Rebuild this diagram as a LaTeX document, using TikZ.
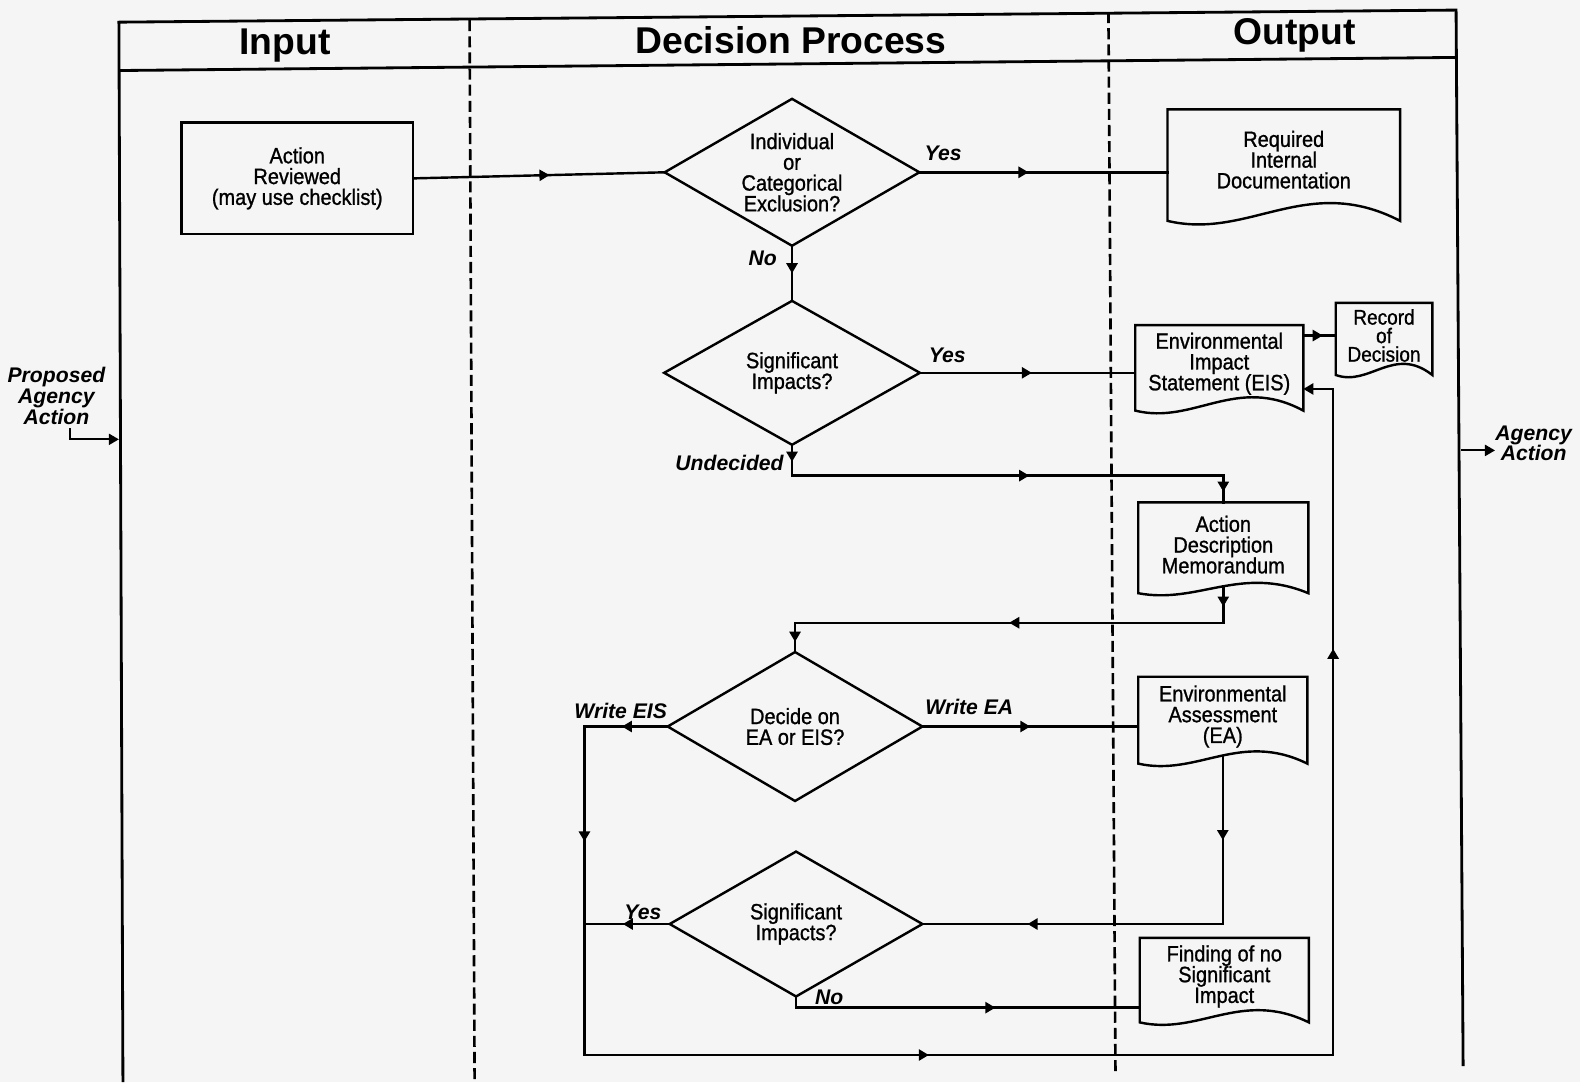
\documentclass[tikz,border=0pt]{standalone}
\usepackage{fontspec}
\setmainfont{Liberation Sans}
\newfontfamily\boxfont[FakeStretch=0.9,FakeBold=1]{Liberation Sans}
\usetikzlibrary{arrows.meta,decorations.markings,calc}
\definecolor{bgc}{RGB}{245,245,245}
\tikzset{
  line/.style={draw=black, line width=1.2pt, line cap=rect},
  frame/.style={draw=black, line width=1.4pt},
  lane/.style={draw=black, line width=1.3pt, dash pattern=on 5.5pt off 2.5pt},
  midarrow/.style={postaction={decorate}, decoration={markings, mark=at position #1 with {\arrow{Triangle[length=5pt,width=5.5pt]}}}},
  tip/.style={-{Triangle[length=5pt,width=5.5pt]}},
  txt/.style={inner sep=0pt, align=center, font=\boxfont\fontsize{11}{10.3}\selectfont},
  procbox/.style={txt, rectangle, draw=black, line width=1.2pt},
  docbox/.style={txt, rectangle},
  decision/.style={txt, rectangle},
  lbl/.style={font=\bfseries\itshape\fontsize{10.5}{10.3}\selectfont, inner sep=0pt, align=center},
  head/.style={font=\bfseries\fontsize{18.5}{20}\selectfont, inner sep=0pt},
}
\newcommand\docdraw[2]{%
  \draw[line, line cap=butt, line join=miter] (#1.north west) -- ($(#1.south west)+(0,{0.225*#2})$)
   .. controls ($(#1.south west)!0.35!(#1.south east)+(0,{0.625*#2})$)
   and ($(#1.south west)!0.6!(#1.south east)+(0,{-0.775*#2})$)
   .. ($(#1.south east)+(0,{0.225*#2})$) -- (#1.north east) -- cycle;}
\newcommand\diadraw[1]{%
  \draw[line, line cap=butt, line join=miter] (#1.west) -- (#1.north) -- (#1.east) -- (#1.south) -- cycle;}
\begin{document}
\begin{tikzpicture}[x=0.5pt,y=-0.5pt]
\fill[bgc] (0,0) rectangle (1568,1074);
\useasboundingbox (0,0) rectangle (1568,1074);

% frame and lanes
\draw[frame] (122,1074) -- (118,22) -- (1445,10) -- (1452,1058);
\draw[frame] (118,70) -- (1445,57);
\draw[lane] (466,20) -- (471,1074);
\draw[lane] (1100,12) -- (1107,1065);

\node[head] (hin) at (283,45) {Input};
\node[head] (hdp) at (785,40) {Decision Process};
\node[head] (hout) at (1285,35) {Output};

% nodes
\node[procbox, minimum width=115pt, minimum height=55.5pt] (ar) at (295,177) {Action\\Reviewed\\(may use checklist)};
\node[decision, minimum width=126pt, minimum height=72.5pt] (d1) at (786,171) {Individual\\or\\Categorical\\Exclusion?};
\node[docbox, minimum width=115pt, minimum height=49.5pt] (req) at (1274,158.5) {Required\\Internal\\Documentation};
\node[decision, minimum width=126.5pt, minimum height=71pt] (d2) at (786,370) {Significant\\Impacts?};
\node[docbox, minimum width=83pt, minimum height=38pt] (eis) at (1210,361) {Environmental\\Impact\\Statement (EIS)};
\node[docbox, minimum width=47.5pt, minimum height=32pt, font=\boxfont\fontsize{10.5}{9.2}\selectfont] (rod) at (1373.5,333) {Record\\of\\Decision};
\node[docbox, minimum width=84pt, minimum height=41.5pt] (adm) at (1214,540.5) {Action\\Description\\Memorandum};
\node[decision, minimum width=126pt, minimum height=73.5pt] (d3) at (789,721) {Decide on\\EA or EIS?};
\node[docbox, minimum width=83.5pt, minimum height=39pt] (ea) at (1213.5,711) {Environmental\\Assessment\\(EA)};
\node[decision, minimum width=125pt, minimum height=71.5pt] (d4) at (790,917) {Significant\\Impacts?};
\node[docbox, minimum width=83.5pt, minimum height=37.8pt] (fonsi) at (1215,969) {Finding of no\\Significant\\Impact};

\diadraw{d1}\diadraw{d2}\diadraw{d3}\diadraw{d4}
\docdraw{req}{48}
\docdraw{eis}{36}
\docdraw{rod}{30}
\docdraw{adm}{28}
\docdraw{ea}{33}
\docdraw{fonsi}{33}

% labels
\node[lbl] (lyes1) at (936,152) {Yes};
\node[lbl] (lno1) at (757,256) {No};
\node[lbl] (lyes2) at (940,353) {Yes};
\node[lbl] (lund) at (724,459) {Undecided};
\node[lbl] (lweis) at (616,706) {Write EIS};
\node[lbl] (lwea) at (962,702) {Write EA};
\node[lbl] (lyes3) at (638,905) {Yes};
\node[lbl] (lno2) at (823,990) {No};
\node[lbl] (pa) at (56,393) {Proposed\\Agency\\Action};
\node[lbl] (aa) at (1522,440) {Agency\\Action};

% coordinates
\coordinate (u1) at (786,472);
\coordinate (u2) at (1214,618);
\coordinate (lp) at (580,1047);
\coordinate (rp) at (1323,1047);
\coordinate (ein) at (1323,386);
\coordinate (nof) at (790,1000);
\coordinate (pin) at (118,436);
\coordinate (pout) at (1451,447);

% connectors
\draw[line, midarrow=0.54] (ar.east) -- (d1.west);
\draw[line, midarrow=0.44] (d1.east) -- (d1.east -| req.west);
\draw[line, midarrow=0.5] (d1.south) -- (d2.north);
\draw[line, midarrow=0.52] (d2.east) -- (d2.east -| eis.west);
\draw[line, midarrow=0.6] (eis.east |- rod.west) -- (rod.west);
\draw[line, midarrow=0.55] (d2.south) -- (u1);
\draw[line, midarrow=0.55] (u1) -- (u1 -| adm.north);
\draw[line, midarrow=0.6] (u1 -| adm.north) -- (adm.north);
\draw[line, midarrow=0.55] (adm.south) -- (u2);
\draw[line, midarrow=0.5] (u2) -- (u2 -| d3.north);
\draw[line, midarrow=0.65] (u2 -| d3.north) -- (d3.north);
\draw[line, midarrow=0.5] (d3.east) -- (d3.east -| ea.west);
\draw[line, midarrow=0.55] (d3.west) -- (d3.west -| lp);
\draw[line, midarrow=0.35] (d3.west -| lp) -- (lp);
\draw[line, midarrow=0.46] (lp) -- (rp);
\draw[line, midarrow=0.61] (rp) -- (ein);
\draw[line, tip] (ein) -- (ein -| eis.east);
\draw[line, midarrow=0.5] (ea.south) -- (ea.south |- d4.east);
\draw[line, midarrow=0.65] (ea.south |- d4.east) -- (d4.east);
\draw[line, midarrow=0.55] (d4.west) -- (d4.west -| lp);
\draw[line] (d4.south) -- (nof);
\draw[line, midarrow=0.58] (nof) -- (nof -| fonsi.west);
\draw[line, line width=1pt, tip] ([xshift=6.5pt,yshift=-2pt]pa.south) |- (pin);
\draw[line, line width=1pt, tip] (pout) -- (pout -| aa.west);
\end{tikzpicture}
\end{document}
